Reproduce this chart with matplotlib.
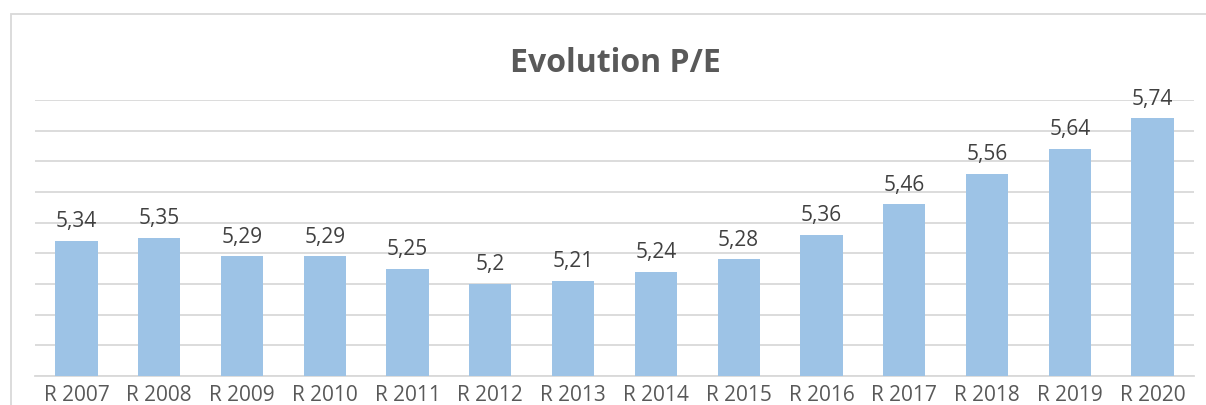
import matplotlib
matplotlib.use("Agg")
import matplotlib.pyplot as plt
from matplotlib.patches import Rectangle

plt.rcParams['font.family'] = ['Open Sans', 'DejaVu Sans']

years = ['R 2007', 'R 2008', 'R 2009', 'R 2010', 'R 2011', 'R 2012', 'R 2013',
         'R 2014', 'R 2015', 'R 2016', 'R 2017', 'R 2018', 'R 2019', 'R 2020']
pe = [5.34, 5.35, 5.29, 5.29, 5.25, 5.2, 5.21, 5.24, 5.28, 5.36, 5.46, 5.56, 5.64, 5.74]

fig = plt.figure(figsize=(12.06, 4.06), dpi=100)
ax = fig.add_axes([35 / 1206, 1 - 377 / 406, 1159 / 1206, 276 / 406])

# chart border (clipped by image edge on right / bottom)
fig.patches.append(Rectangle((11 / 1206, -0.1), 1.2, 0.963 + 0.1,
                             transform=fig.transFigure, fill=False,
                             edgecolor='#D9D9D9', linewidth=1.3))

x = range(len(years))
bars = ax.bar(x, pe, width=0.51, color='#9DC3E6', zorder=3)
ax.bar_label(bars, labels=[str(v).replace('.', ',') for v in pe],
             padding=7, fontsize=15, color='#404040')

ax.set_xlim(-0.5, len(years) - 0.5)
ax.set_ylim(4.9, 5.8)
ax.set_yticks([4.9 + 0.1 * i for i in range(10)])
ax.yaxis.grid(True, color='#D9D9D9', linewidth=1.3, zorder=0)
ax.tick_params(axis='y', left=False, labelleft=False)
ax.set_xticks(list(x))
ax.set_xticklabels(years, fontsize=15, color='#595959')
ax.tick_params(axis='x', length=0, pad=6)
for side in ['top', 'right', 'left']:
    ax.spines[side].set_visible(False)
ax.spines['bottom'].set_color('#D9D9D9')
ax.spines['bottom'].set_linewidth(1.3)

fig.text(615 / 1206, 1 - 63 / 406, 'Evolution P/E', ha='center', va='center',
         fontsize=23, fontweight='bold', color='#595959')

fig.savefig('out.png', dpi=100)
